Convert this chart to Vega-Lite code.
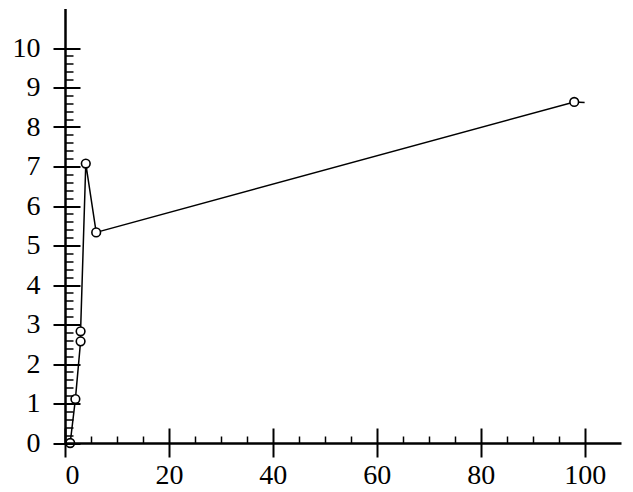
{
  "$schema": "https://vega.github.io/schema/vega-lite/v6.json",
  "width": 556,
  "height": 434.5,
  "autosize": {"type": "none"},
  "padding": {"left": 65, "top": 8.5, "right": 12, "bottom": 49},
  "background": "white",
  "config": {"view": {"stroke": null}},
  "data": {"values": [
    {"kind": "nuc", "A": 1, "E": 0.0, "nuclide": "1H", "marker": true},
    {"kind": "nuc", "A": 2, "E": 1.112, "nuclide": "2H", "marker": true},
    {"kind": "nuc", "A": 3, "E": 2.573, "nuclide": "3He", "marker": true},
    {"kind": "nuc", "A": 3, "E": 2.827, "nuclide": "3H", "marker": true},
    {"kind": "nuc", "A": 4, "E": 7.074, "nuclide": "4He", "marker": true},
    {"kind": "nuc", "A": 6, "E": 5.332, "nuclide": "6Li", "marker": true},
    {"kind": "nuc", "A": 98, "E": 8.635, "nuclide": "98Mo", "marker": true},
    {"kind": "nuc", "A": 100, "E": 8.62, "nuclide": "", "marker": false}
  ]},
  "layer": [
    {
      "transform": [{"filter": "datum.kind === 'nuc'"}],
      "mark": {"type": "line", "color": "#000000", "strokeWidth": 1.5},
      "encoding": {
        "x": {"field": "A", "type": "quantitative",
          "scale": {"domain": [0, 107], "nice": false, "zero": false},
          "axis": {"orient": "bottom", "values": [0, 20, 40, 60, 80, 100], "grid": false, "zindex": 1,
            "domainColor": "#000000", "domainWidth": 2.5, "tickColor": "#000000", "tickWidth": 2, "tickSize": 14,
            "labelFont": "Liberation Serif", "labelFontSize": 28, "labelColor": "#000000", "labelPadding": 4,
            "title": null}},
        "y": {"field": "E", "type": "quantitative",
          "scale": {"domain": [0, 11], "nice": false, "zero": false},
          "axis": {"orient": "left", "values": [0, 1, 2, 3, 4, 5, 6, 7, 8, 9, 10], "grid": false, "zindex": 1,
            "domainColor": "#000000", "domainWidth": 2.5, "tickColor": "#000000", "tickWidth": 2, "tickSize": 12,
            "labelFont": "Liberation Serif", "labelFontSize": 28, "labelColor": "#000000", "labelPadding": 13,
            "title": null}}
      }
    },
    {
      "transform": [{"filter": "datum.kind === 'nuc' && datum.marker"}],
      "mark": {"type": "point", "shape": "circle", "filled": true, "fill": "#ffffff", "stroke": "#000000", "strokeWidth": 1.6, "size": 75, "opacity": 1},
      "encoding": {
        "x": {"field": "A", "type": "quantitative",
          "scale": {"domain": [0, 107], "nice": false, "zero": false},
          "axis": {"orient": "bottom", "values": [0, 5, 10, 15, 20, 25, 30, 35, 40, 45, 50, 55, 60, 65, 70, 75, 80, 85, 90, 95, 100],
            "grid": false, "domain": false, "labels": false, "tickColor": "#000000", "zindex": 1,
            "tickWidth": {"condition": {"test": "datum.value % 20 === 0", "value": 2}, "value": 1.5},
            "tickSize": {"condition": {"test": "datum.value % 20 === 0", "value": -15}, "value": -7},
            "title": null}},
        "y": {"field": "E", "type": "quantitative",
          "scale": {"domain": [0, 11], "nice": false, "zero": false},
          "axis": {"orient": "left", "values": [0, 0.2, 0.4, 0.6, 0.8, 1, 1.2, 1.4, 1.6, 1.8, 2, 2.2, 2.4, 2.6, 2.8, 3, 3.2, 3.4, 3.6, 3.8, 4, 4.2, 4.4, 4.6, 4.8, 5, 5.2, 5.4, 5.6, 5.8, 6, 6.2, 6.4, 6.6, 6.8, 7, 7.2, 7.4, 7.6, 7.8, 8, 8.2, 8.4, 8.6, 8.8, 9, 9.2, 9.4, 9.6, 9.8, 10],
            "grid": false, "domain": false, "labels": false, "tickColor": "#000000", "zindex": 1,
            "tickWidth": {"condition": {"test": "abs(datum.value - round(datum.value)) < 0.01", "value": 2}, "value": 1.5},
            "tickSize": {"condition": {"test": "abs(datum.value - round(datum.value)) < 0.01", "value": -15}, "value": -8},
            "title": null}}
      }
    }
  ],
  "resolve": {"axis": {"x": "independent", "y": "independent"}}
}
